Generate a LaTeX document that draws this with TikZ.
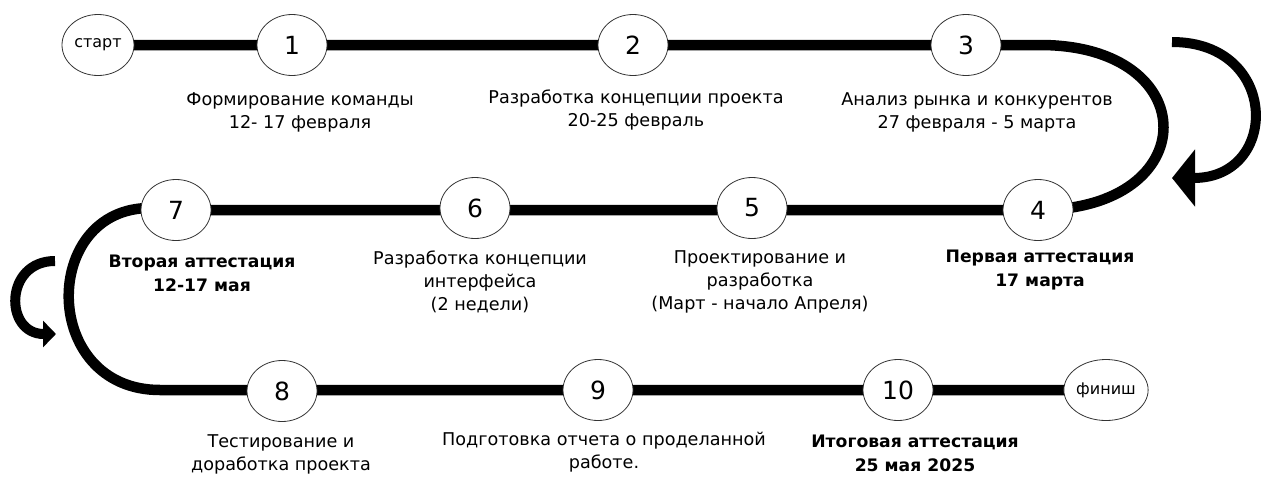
\documentclass[tikz,border=0pt]{standalone}
\usepackage{fontspec}
\setmainfont{DejaVu Sans}
\usetikzlibrary{arrows.meta,shapes.geometric,backgrounds}

\begin{document}
\begin{tikzpicture}[
  x=1pt, y=-1pt,
  stage/.style={ellipse, draw=black!80, line width=0.8pt, fill=white,
                minimum width=70pt, minimum height=61pt, inner sep=0pt,
                font=\fontsize{25}{30}\selectfont},
  endpt/.style={stage, minimum width=72pt, font=\fontsize{16}{19}\selectfont},
  lab/.style={align=center, inner sep=0pt, font=\fontsize{17.6}{23}\selectfont},
  blab/.style={lab, font=\fontsize{17.2}{24}\selectfont\bfseries},
  track/.style={line width=10.5pt, draw=black},
  turn/.style={line width=10pt, draw=black, -{Triangle[length=23pt, width=56pt]}},
  turnsm/.style={line width=10pt, draw=black, -{Triangle[length=13pt, width=26pt]}}
]
\useasboundingbox (0,0) rectangle (1280,501);

% ================= stages =================
\node[endpt] (start) at (98,45) {старт};
\node[stage] (n1) at (292,45) {1};
\node[stage] (n2) at (633,45) {2};
\node[stage] (n3) at (966,45) {3};
\node[stage] (n4) at (1038,210) {4};
\node[stage] (n5) at (752,208) {5};
\node[stage] (n6) at (475,208) {6};
\node[stage] (n7) at (176,210) {7};
\node[stage] (n8) at (282,391) {8};
\node[stage] (n9) at (598,390) {9};
\node[stage] (n10) at (898,390) {10};
\node[endpt] (finish) at (1106,390) {финиш};

% ================= labels =================
\node[lab] (l1) at (300,112) {Формирование команды\\12- 17 февраля};
\node[lab] (l2) at (636,110) {Разработка концепции проекта\\20-25 февраль};
\node[lab] (l3) at (977,112) {Анализ рынка и конкурентов\\27 февраля - 5 марта};
\node[blab] (l4) at (1040,270) {Первая аттестация\\17 марта};
\node[lab] (l5) at (760,282) {Проектирование и\\разработка\\(Март - начало Апреля)};
\node[lab] (l6) at (480,282) {Разработка концепции\\интерфейса\\(2 недели)};
\node[blab] (l7) at (202,273) {Вторая аттестация\\12-17 мая};
\node[lab] (l8) at (281,454) {Тестирование и\\доработка проекта};
\node[lab] (l9) at (604,452) {Подготовка отчета о проделанной\\работе.};
\node[blab] (l10) at (915,453) {Итоговая аттестация\\25 мая 2025};

% ================= the road =================
\coordinate (bendR) at (1040,45);
\coordinate (bendL1) at (150,208);
\coordinate (bendL2) at (160,390);
\begin{scope}[on background layer]
  \draw[track] (start.center) -- (n3.center) -- (bendR)
    .. controls (1205,45) and (1205,210) .. (n4.center) -- (n7.center) -- (bendL1)
    .. controls (40,208) and (40,390) .. (bendL2) -- (finish.center);
\end{scope}

% ================= turn arrows =================
\coordinate (tailR) at (1172,42);
\coordinate (tipR) at (1172,178);
\draw[turn] (tailR) .. controls (1280,42) and (1280,178) .. (tipR);
\coordinate (tailL) at (55,261);
\coordinate (tipL) at (56,334);
\draw[turnsm] (tailL) .. controls (4,261) and (4,334) .. (tipL);

\end{tikzpicture}
\end{document}
